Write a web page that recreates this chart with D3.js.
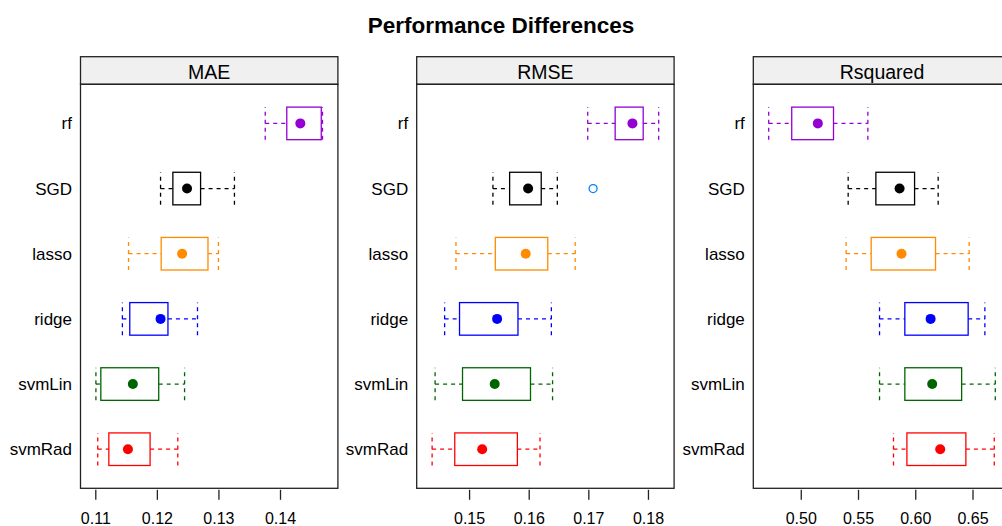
<!DOCTYPE html>
<html>
<head>
<meta charset="utf-8">
<script src="https://cdn.jsdelivr.net/npm/d3@7"></script>
<style>
  html, body { margin: 0; padding: 0; background: #fff; overflow: hidden; }
  svg { display: block; font-family: "Liberation Sans", Arial, Helvetica, sans-serif; }
</style>
</head>
<body>
<svg id="chart" width="1002" height="526"></svg>
<script>
// Models, listed bottom to top
const models = ["svmRad", "svmLin", "ridge", "lasso", "SGD", "rf"];
const metrics = ["MAE", "RMSE", "Rsquared"];

// Five-number summaries per model: [lower whisker, Q1, median, Q3, upper whisker]
const maeStats = [
  [0.1104, 0.1122, 0.1153, 0.1189, 0.1234],
  [0.1101, 0.1109, 0.1161, 0.1203, 0.1245],
  [0.1144, 0.1156, 0.1206, 0.1218, 0.1266],
  [0.1154, 0.1207, 0.1241, 0.1283, 0.1300],
  [0.1206, 0.1226, 0.1249, 0.1271, 0.1326],
  [0.1376, 0.1411, 0.1433, 0.1467, 0.1469]
];
const rmseStats = [
  [0.1438, 0.1476, 0.1522, 0.1581, 0.1619],
  [0.1443, 0.1489, 0.1543, 0.1603, 0.1640],
  [0.1459, 0.1484, 0.1547, 0.1582, 0.1638],
  [0.1478, 0.1544, 0.1595, 0.1632, 0.1678],
  [0.1540, 0.1568, 0.1599, 0.1621, 0.1648],
  [0.1699, 0.1745, 0.1774, 0.1792, 0.1818]
];
const rsqStats = [
  [0.5810, 0.5927, 0.6218, 0.6442, 0.6690],
  [0.5688, 0.5909, 0.6148, 0.6405, 0.6699],
  [0.5688, 0.5909, 0.6134, 0.6462, 0.6608],
  [0.5396, 0.5615, 0.5880, 0.6177, 0.6471],
  [0.5414, 0.5656, 0.5863, 0.5994, 0.6200],
  [0.4720, 0.4921, 0.5149, 0.5286, 0.5586]
];
// Points beyond the whiskers: [metric, model, value]
const outliers = [["RMSE", "SGD", 0.1708]];

const maeTicks = [0.11, 0.12, 0.13, 0.14];
const rmseTicks = [0.15, 0.16, 0.17, 0.18];
const rsqTicks = [0.50, 0.55, 0.60, 0.65];

const modelColors = ["#FF0000", "#006400", "#0000FF", "#FF8C00", "#000000", "#9400D3"];

const statsByMetric = { MAE: maeStats, RMSE: rmseStats, Rsquared: rsqStats };
const ticksByMetric = { MAE: maeTicks, RMSE: rmseTicks, Rsquared: rsqTicks };

const svg = d3.select("#chart");

// layout
const panelW = 257.4, panelLefts = [80.5, 416.7, 753.3];
const stripTop = 56.7, panelTop = 84.3, panelBottom = 488.3;

svg.append("text")
  .attr("x", 501).attr("y", 33)
  .attr("text-anchor", "middle")
  .attr("font-size", 22.5).attr("font-weight", "bold")
  .attr("fill", "#000")
  .text("Performance Differences");

const y = d3.scaleLinear().domain([0.4, models.length + 0.6]).range([panelBottom, panelTop]);
const boxH = (y(0) - y(0.5));

metrics.forEach((metric, pi) => {
  const stats = statsByMetric[metric];
  const left = panelLefts[pi];
  const lo = d3.min(stats, d => d[0]), hi = d3.max(stats, d => d[4]);
  const pad = (hi - lo) * 0.068;
  const x = d3.scaleLinear().domain([lo - pad, hi + pad]).range([left, left + panelW]);

  const g = svg.append("g");

  // strip
  g.append("rect")
    .attr("x", left).attr("y", stripTop)
    .attr("width", panelW).attr("height", panelTop - stripTop)
    .attr("fill", "#f0f0f0").attr("stroke", "#222").attr("stroke-width", 1.3);
  g.append("text")
    .attr("x", left + panelW / 2).attr("y", 78.5)
    .attr("text-anchor", "middle").attr("font-size", 19.5)
    .attr("fill", "#000")
    .text(metric);

  // panel frame
  g.append("rect")
    .attr("x", left).attr("y", panelTop)
    .attr("width", panelW).attr("height", panelBottom - panelTop)
    .attr("fill", "none").attr("stroke", "#222").attr("stroke-width", 1.3);

  // model labels
  g.selectAll("text.ylab").data(models).join("text")
    .attr("class", "ylab")
    .attr("x", left - 8.5).attr("y", (d, i) => y(i + 1))
    .attr("dy", "0.35em")
    .attr("text-anchor", "end").attr("font-size", 17)
    .attr("fill", "#000")
    .text(d => d);

  // x axis
  const axis = d3.axisBottom(x).tickValues(ticksByMetric[metric])
    .tickFormat(d3.format(".2f")).tickSize(10).tickPadding(13);
  const ax = g.append("g").attr("transform", `translate(0,${panelBottom + 1.5})`).call(axis);
  ax.select(".domain").remove();
  ax.selectAll(".tick line").attr("stroke", "#222").attr("stroke-width", 1.3);
  ax.selectAll(".tick text").attr("font-size", 16).attr("fill", "#000")
    .attr("font-family", "Liberation Sans, Arial, sans-serif");

  // boxes
  stats.forEach((s, i) => {
    const cy = y(i + 1), col = modelColors[i];
    const top = cy - boxH / 2, bot = cy + boxH / 2;
    const bx = g.append("g");
    // whiskers
    bx.append("line").attr("x1", x(s[0])).attr("x2", x(s[1])).attr("y1", cy).attr("y2", cy);
    bx.append("line").attr("x1", x(s[3])).attr("x2", x(s[4])).attr("y1", cy).attr("y2", cy);
    bx.append("line").attr("x1", x(s[0])).attr("x2", x(s[0])).attr("y1", bot).attr("y2", top);
    bx.append("line").attr("x1", x(s[4])).attr("x2", x(s[4])).attr("y1", bot).attr("y2", top);
    bx.selectAll("line").attr("stroke", col).attr("stroke-width", 1.3)
      .attr("stroke-dasharray", "4,4");
    // box
    bx.append("rect")
      .attr("x", x(s[1])).attr("y", top)
      .attr("width", x(s[3]) - x(s[1])).attr("height", boxH)
      .attr("fill", "none").attr("stroke", col).attr("stroke-width", 1.3);
    // median dot
    bx.append("circle").attr("cx", x(s[2])).attr("cy", cy).attr("r", 5).attr("fill", col);
  });

  // outliers
  outliers.filter(o => o[0] === metric).forEach(o => {
    const i = models.indexOf(o[1]);
    g.append("circle").attr("cx", x(o[2])).attr("cy", y(i + 1)).attr("r", 4)
      .attr("fill", "none").attr("stroke", "#0080ff").attr("stroke-width", 1.3);
  });
});
</script>
</body>
</html>
